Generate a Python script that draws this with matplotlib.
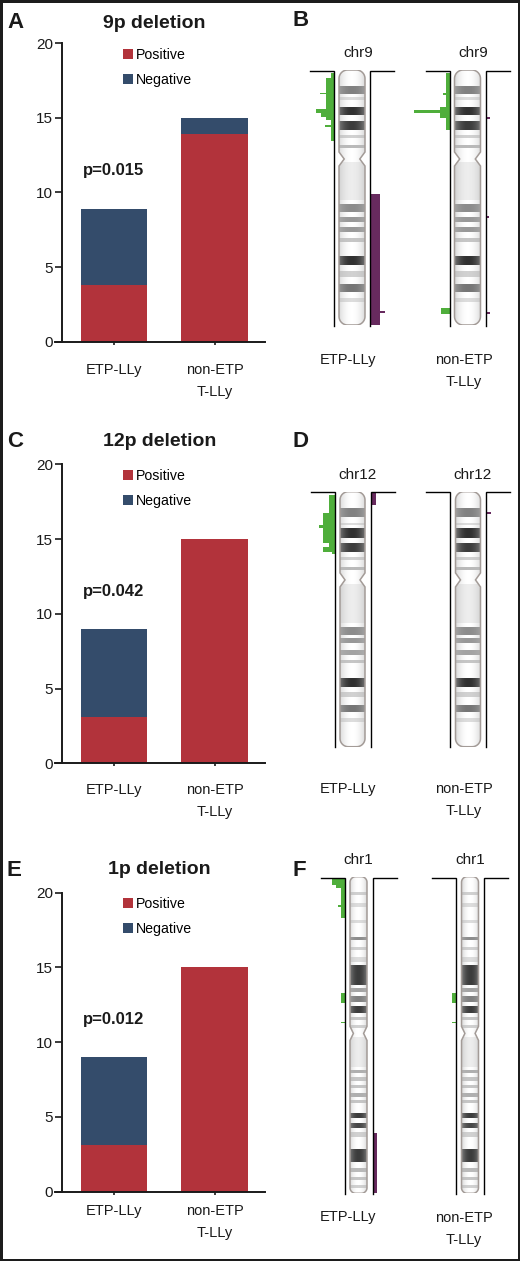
import numpy as np
import matplotlib
matplotlib.use("Agg")
import matplotlib.pyplot as plt
from matplotlib.patches import Polygon, Patch, Rectangle

plt.rcParams['font.family'] = ['Liberation Sans', 'DejaVu Sans']

# ------------------------------------------------------------------ data
groups = ["ETP-LLy", "non-ETP\nT-LLy"]
series_labels = ["Positive", "Negative"]
titles = ["9p deletion", "12p deletion", "1p deletion"]
p_values = ["p=0.015", "p=0.042", "p=0.012"]
y_ticks = [0, 5, 10, 15, 20]

pos_9p = [3.8, 13.9]
neg_9p = [5.1, 1.1]
pos_12p = [3.1, 15.0]
neg_12p = [5.9, 0.0]
pos_1p = [3.1, 15.0]
neg_1p = [5.9, 0.0]

chrom_names = ["chr9", "chr12", "chr1"]

# ideogram bands: (start, end, darkness) along chromosome (fraction of length)
chr9_bands = [(0.063, 0.095, 0.55), (0.107, 0.118, 0.15), (0.144, 0.176, 0.9),
              (0.200, 0.235, 0.85), (0.255, 0.268, 0.2), (0.294, 0.307, 0.3),
              (0.359, 0.510, 0.08), (0.525, 0.555, 0.5), (0.575, 0.595, 0.45),
              (0.614, 0.634, 0.45), (0.660, 0.673, 0.25), (0.729, 0.765, 0.9),
              (0.790, 0.810, 0.2), (0.839, 0.869, 0.6), (0.895, 0.908, 0.15)]
chr9_centromere = 0.349
chr12_bands = [(0.065, 0.098, 0.55), (0.124, 0.131, 0.15), (0.144, 0.183, 0.9),
               (0.200, 0.235, 0.85), (0.255, 0.268, 0.2), (0.294, 0.307, 0.3),
               (0.360, 0.516, 0.08), (0.529, 0.562, 0.5), (0.575, 0.595, 0.45),
               (0.621, 0.640, 0.4), (0.660, 0.673, 0.25), (0.732, 0.765, 0.9),
               (0.784, 0.804, 0.2), (0.837, 0.863, 0.6), (0.889, 0.902, 0.15)]
chr12_centromere = 0.346
chr1_bands = [(0.047, 0.058, 0.2), (0.084, 0.095, 0.15), (0.137, 0.147, 0.15),
              (0.189, 0.200, 0.5), (0.221, 0.232, 0.2), (0.253, 0.268, 0.15),
              (0.279, 0.342, 0.85), (0.353, 0.363, 0.4), (0.377, 0.395, 0.55),
              (0.408, 0.429, 0.85), (0.442, 0.453, 0.25), (0.468, 0.479, 0.2),
              (0.505, 0.600, 0.08), (0.610, 0.621, 0.35), (0.634, 0.644, 0.25),
              (0.658, 0.668, 0.25), (0.682, 0.695, 0.35), (0.705, 0.716, 0.25),
              (0.745, 0.763, 0.85), (0.779, 0.795, 0.8), (0.805, 0.821, 0.2),
              (0.861, 0.900, 0.85), (0.921, 0.932, 0.3), (0.947, 0.958, 0.25),
              (0.973, 0.984, 0.2)]
chr1_centromere = 0.495

# copy-number frequency profiles: (start, end, frequency) along chromosome
chr9_etp_loss = [(0.010, 0.033, 3.3), (0.033, 0.089, 8.3), (0.089, 0.095, 14),
                 (0.095, 0.154, 8.3), (0.154, 0.167, 18), (0.167, 0.186, 13),
                 (0.186, 0.196, 8), (0.196, 0.216, 3.3), (0.216, 0.222, 9),
                 (0.222, 0.277, 3.3)]
chr9_etp_gain = [(0.486, 0.944, 10), (0.944, 0.954, 15), (0.954, 1.0, 10)]
chr9_non_loss = [(0.0105, 0.092, 4), (0.092, 0.098, 7), (0.098, 0.144, 4),
                 (0.144, 0.157, 10), (0.157, 0.167, 36), (0.167, 0.190, 10),
                 (0.190, 0.235, 4), (0.935, 0.957, 9)]
chr9_non_gain = [(0.183, 0.193, 4), (0.571, 0.579, 3), (0.948, 0.956, 4)]

chr12_etp_loss = [(0.013, 0.085, 5.7), (0.085, 0.131, 11.7), (0.131, 0.144, 15.7),
                  (0.144, 0.203, 11.7), (0.203, 0.216, 5.7), (0.216, 0.235, 11.7),
                  (0.235, 0.244, 2.3)]
chr12_etp_gain = [(0.007, 0.052, 5.3)]
chr12_non_loss = []
chr12_non_gain = [(0.079, 0.088, 5)]

chr1_etp_loss = [(0.003, 0.0105, 13), (0.0105, 0.026, 12.3), (0.026, 0.037, 9),
                 (0.037, 0.089, 3.3), (0.089, 0.097, 6.7), (0.097, 0.132, 3.3),
                 (0.368, 0.398, 4), (0.458, 0.463, 4)]
chr1_etp_gain = [(0.81, 1.0, 4.7)]
chr1_non_loss = [(0.368, 0.398, 4.3), (0.458, 0.463, 4)]
chr1_non_gain = []

# ------------------------------------------------------------------ style / layout
RED = '#B2333B'
BLUE = '#344C6B'
GREEN = '#4FAE3B'
PURPLE = '#672A5E'
TXT = '#1a1a1a'
W, H = 520, 1261

fig = plt.figure(figsize=(W / 100, H / 100), dpi=100)


def fx(x):
    return x / W


def fy(y):
    return 1 - y / H


bar_sets = [(pos_9p, neg_9p), (pos_12p, neg_12p), (pos_1p, neg_1p)]
row_top = [43.3, 464.3, 892.7]
row_bot = [341.7, 763.3, 1191.7]
title_y_px = [23.5, 442, 869.5]
label_pad = [13.0, 11.8, 6.5]
title_dx = [0.455, 0.48, 0.48]
left_px, right_px = 61.7, 265.0
unit_px = 100.8
x0 = -(113.7 - left_px) / unit_px
x1 = (right_px - 113.7) / unit_px

for i in range(3):
    ax = fig.add_axes([fx(left_px), fy(row_bot[i]), (right_px - left_px) / W,
                       (row_bot[i] - row_top[i]) / H])
    pos, neg = bar_sets[i]
    xs = np.arange(len(groups))
    ax.bar(xs, pos, width=0.655, color=RED, linewidth=0, label=series_labels[0])
    ax.bar(xs, neg, bottom=pos, width=0.655, color=BLUE, linewidth=0,
           label=series_labels[1])
    ax.set_xlim(x0, x1)
    ax.set_ylim(0, 20)
    ax.set_yticks(y_ticks)
    ax.set_xticks(xs)
    ax.set_xticklabels(groups)
    for lab in ax.get_xticklabels():
        lab.set_linespacing(1.75)
    for s in ['top', 'right']:
        ax.spines[s].set_visible(False)
    for s in ['left', 'bottom']:
        ax.spines[s].set_linewidth(1.4)
        ax.spines[s].set_color(TXT)
    ax.spines['bottom'].set_bounds(x0 - 6.7 / unit_px, x1)
    ax.tick_params(axis='y', length=4.8, width=1.2, pad=1.5, labelsize=11,
                   colors=TXT)
    ax.tick_params(axis='x', length=2.2, width=1.2, pad=label_pad[i],
                   labelsize=10.5, colors=TXT)
    hpx = row_bot[i] - row_top[i]
    ax.text(title_dx[i], (row_bot[i] - title_y_px[i]) / hpx, titles[i],
            transform=ax.transAxes, ha='center', va='center', fontsize=14,
            fontweight='bold', color=TXT)
    ax.text(0, 11.5, p_values[i], ha='center', va='center', fontsize=12,
            fontweight='bold', color=TXT)
    handles = [Patch(facecolor=RED, edgecolor='none'),
               Patch(facecolor=BLUE, edgecolor='none')]
    ax.legend(handles, series_labels, loc='upper left',
              bbox_to_anchor=((123 - left_px) / (right_px - left_px),
                              1 - 4.5 / hpx),
              frameon=False, borderpad=0, borderaxespad=0, handlelength=0.72,
              handleheight=0.72, handletextpad=0.22, labelspacing=0.78,
              fontsize=10.2)

# ------------------------------------------------------------------ chromosomes
chrom_sets = [
    (chr9_bands, chr9_centromere, [(chr9_etp_loss, chr9_etp_gain), (chr9_non_loss, chr9_non_gain)]),
    (chr12_bands, chr12_centromere, [(chr12_etp_loss, chr12_etp_gain), (chr12_non_loss, chr12_non_gain)]),
    (chr1_bands, chr1_centromere, [(chr1_etp_loss, chr1_etp_gain), (chr1_non_loss, chr1_non_gain)]),
]
chrom_centers = [(352, 467.5), (352.5, 468), (358.5, 470)]
chrom_top = [70, 491.7, 876.7]
chrom_bot = [325, 746.7, 1193.3]
ideo_w = [26, 25, 17]
base_off = [18, 18, 14]
h_ext = [42, 42, 38]
name_dx = [6, 5, 0]
glabel_y = [361, 790, 1218.5]


def outline_pts(w, L, cen, rc, pinch, span):
    h = w / 2
    pts = []
    for t in np.linspace(np.pi / 2, 0, 14):
        pts.append((h - rc + rc * np.cos(t), rc - rc * np.sin(t)))
    yc = cen * L
    pts += [(h, yc - span), (h - pinch, yc), (h, yc + span)]
    for t in np.linspace(0, -np.pi / 2, 14):
        pts.append((h - rc + rc * np.cos(t), L - rc - rc * np.sin(t)))
    right = np.array(pts)
    left = right[::-1].copy()
    left[:, 0] *= -1
    allp = np.vstack([right, left])
    allp[:, 1] /= L
    return allp


for i in range(3):
    bands, cen, profiles = chrom_sets[i]
    L = chrom_bot[i] - chrom_top[i]
    w = ideo_w[i]
    for j in range(2):
        c = chrom_centers[i][j]
        ax = fig.add_axes([fx(c - 50), fy(chrom_bot[i]), 100 / W, L / H])
        ax.axis('off')
        pts = outline_pts(w, L, cen, 0.33 * w, 0.2 * w, 7)
        body = Polygon(pts, closed=True, facecolor='white', edgecolor='none',
                       zorder=1)
        ax.add_patch(body)
        bs = np.array([b[0] for b in bands])
        be = np.array([b[1] for b in bands])
        bd = np.array([b[2] for b in bands])
        cols = [str(1 - 0.9 * d) for d in bd]
        bars = ax.barh((bs + be) / 2, w, height=be - bs, left=-w / 2,
                       color=cols, linewidth=0, zorder=2)
        for p in bars:
            p.set_clip_path(body)
        grad = np.linspace(-1, 1, 64)
        img = np.ones((1, 64, 4)) * 0.72
        img[..., 3] = 0.5 * np.abs(grad) ** 2.0
        im = ax.imshow(img, extent=(-w / 2, w / 2, 1, 0), aspect='auto',
                       zorder=3, interpolation='bilinear')
        im.set_clip_path(body)
        ax.add_patch(Polygon(pts, closed=True, fill=False, edgecolor='#a39b97',
                             linewidth=1.1, zorder=4))
        loss, gain = profiles[j]
        if loss:
            ls = np.array([s[0] for s in loss])
            le = np.array([s[1] for s in loss])
            lv = np.array([s[2] for s in loss])
            ax.barh((ls + le) / 2, -lv, height=le - ls, left=-base_off[i],
                    color=GREEN, linewidth=0, zorder=2, clip_on=False)
        if gain:
            gs = np.array([s[0] for s in gain])
            ge = np.array([s[1] for s in gain])
            gv = np.array([s[2] for s in gain])
            ax.barh((gs + ge) / 2, gv, height=ge - gs, left=base_off[i],
                    color=PURPLE, linewidth=0, zorder=2, clip_on=False)
        ax.plot([-h_ext[i], -base_off[i], -base_off[i]], [0.003, 0.003, 1.003],
                color='black', lw=1.0, clip_on=False, zorder=5,
                solid_joinstyle='miter')
        ax.plot([h_ext[i], base_off[i], base_off[i]], [0.003, 0.003, 1.003],
                color='black', lw=1.0, clip_on=False, zorder=5,
                solid_joinstyle='miter')
        ax.set_xlim(-50, 50)
        ax.set_ylim(1, 0)
        ax.text(name_dx[i], -17 / L, chrom_names[i], ha='center', va='center',
                fontsize=11, color=TXT, clip_on=False)
    fig.text(fx(348), fy(glabel_y[i] - 8), groups[0], ha='center', va='top',
             fontsize=10.5, color=TXT)
    fig.text(fx(464), fy(glabel_y[i] - 8), groups[1], ha='center', va='top',
             fontsize=10.5, color=TXT, linespacing=1.75)

# ------------------------------------------------------------------ panel letters
letters_left = ["A", "C", "E"]
letters_right = ["B", "D", "F"]
letter_y_left = [22, 441.7, 870]
letter_y_right = [20, 441.7, 870]
for k in range(3):
    fig.text(fx(7), fy(letter_y_left[k]), letters_left[k], ha='left', va='center',
             fontsize=16, fontweight='bold', color=TXT)
    fig.text(fx(292), fy(letter_y_right[k]), letters_right[k], ha='left',
             va='center', fontsize=16, fontweight='bold', color=TXT)

fig.add_artist(Rectangle((0, 0), 1, 1, transform=fig.transFigure, fill=False,
                         linewidth=3.6, edgecolor='#1c1c1c'))

fig.savefig('out.png', dpi=100)
